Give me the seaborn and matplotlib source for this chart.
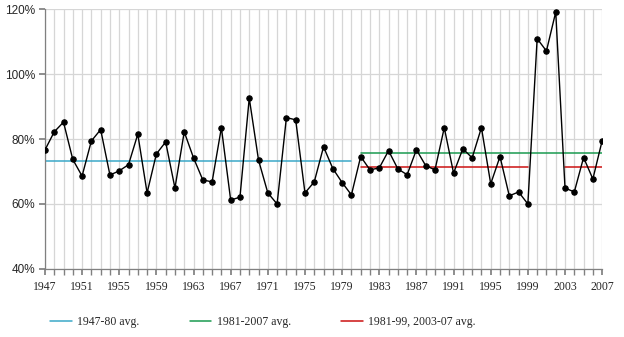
import matplotlib
matplotlib.use("Agg")
import matplotlib.pyplot as plt
import matplotlib.ticker as mticker
import seaborn as sns
import pandas as pd
import numpy as np

years = list(range(1947, 2008))
values = [76.6, 82.2, 85.2, 73.7, 68.6, 79.4, 82.9, 68.9, 70.2, 72.1,
          81.5, 63.4, 75.4, 79.1, 64.9, 82.2, 74.2, 67.4, 66.8, 83.5,
          61.2, 62.1, 92.6, 73.5, 63.4, 60.0, 86.6, 85.9, 63.4, 66.8,
          77.6, 70.9, 66.6, 62.8, 74.6, 70.5, 71.1, 76.4, 70.8, 69.0,
          76.7, 71.8, 70.5, 83.5, 69.5, 77.0, 74.2, 83.5, 66.2, 74.6,
          62.5, 63.7, 60.0, 110.9, 107.1, 119.1, 64.9, 63.7, 74.3, 67.7,
          79.5]

avg_labels = ["1947-80 avg.", "1981-2007 avg.", "1981-99, 2003-07 avg."]
avg_values = [73.2, 75.7, 71.5]
avg_segments = [[(1947, 1980)], [(1981, 2007)], [(1981, 1999), (2003, 2007)]]
avg_colors = ["#3aa8c8", "#1a9a50", "#cc1111"]

sns.set_theme(style="white")
plt.rcParams['font.family'] = ['Liberation Serif', 'DejaVu Sans']

fig = plt.figure(figsize=(6.24, 3.37), dpi=100)
ax = fig.add_axes([0.072, 0.202, 0.893, 0.771])

df = pd.DataFrame({"year": years, "value": values})

rows = []
for lab, v, segs in zip(avg_labels, avg_values, avg_segments):
    for i, (a, b) in enumerate(segs):
        rows.append({"year": a, "value": v, "label": lab, "seg": i})
        rows.append({"year": b, "value": v, "label": lab, "seg": i})
adf = pd.DataFrame(rows)

sns.lineplot(data=adf, x="year", y="value", hue="label", units="seg",
             estimator=None, palette=dict(zip(avg_labels, avg_colors)),
             linewidth=1.1, ax=ax, legend=True, zorder=2)
sns.lineplot(data=df, x="year", y="value", color="black", linewidth=1.0,
             marker="o", markersize=3.9, markeredgecolor="black",
             ax=ax, zorder=3, legend=False)

ax.set_xlim(1947, 2007)
ax.set_ylim(40, 120)
ax.set_xticks(range(1947, 2008, 4))
ax.set_xticks(range(1947, 2008), minor=True)
ax.set_yticks([40, 60, 80, 100, 120])
ax.yaxis.set_major_formatter(mticker.FuncFormatter(lambda v, p: f"{int(v)}%"))
ax.set_xlabel("")
ax.set_ylabel("")

ax.grid(True, which="both", axis="x", color="#d6d6d6", linewidth=0.9)
ax.grid(True, which="major", axis="y", color="#d6d6d6", linewidth=0.9)
ax.set_axisbelow(True)
for s in ["top", "right"]:
    ax.spines[s].set_visible(False)
ax.spines["left"].set_color("#808080")
ax.spines["bottom"].set_color("#808080")
ax.spines["left"].set_linewidth(0.9)
ax.spines["bottom"].set_linewidth(0.9)

ax.tick_params(axis="x", which="both", direction="out", length=4, color="#808080",
               bottom=True, labelsize=8.5, pad=5)
ax.tick_params(axis="y", which="major", direction="out", length=4, color="#808080",
               left=True, labelsize=8.5, pad=3)
for t in ax.get_yticklabels():
    t.set_fontfamily(['Liberation Sans', 'DejaVu Sans'])

handles, labels = ax.get_legend_handles_labels()
ax.get_legend().remove()
h = [hh for hh, ll in zip(handles, labels) if ll in avg_labels]
l = [ll for ll in labels if ll in avg_labels]
fig.legend(h, l, loc="center", bbox_to_anchor=(0.4215, 0.045), ncol=3,
           frameon=False, fontsize=8.5, handlelength=1.8, handletextpad=0.45,
           columnspacing=4.3)

fig.savefig("out.png", dpi=100)
